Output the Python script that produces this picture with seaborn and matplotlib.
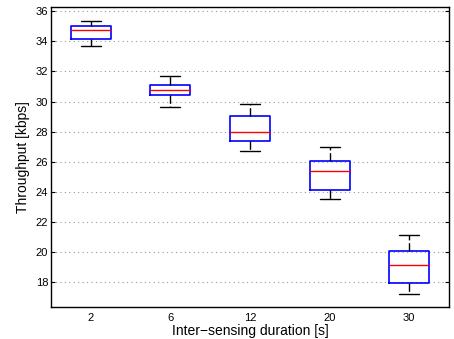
import numpy as np
import matplotlib
matplotlib.use('Agg')
import matplotlib.pyplot as plt
import pandas as pd
import seaborn as sns

# inter-sensing durations [s]
durations = ['2', '6', '12', '20', '30']
# five-number summaries (kbps)
whisker_low = [33.68, 29.66, 26.71, 23.55, 17.24]
q1 = [34.17, 30.42, 27.37, 24.12, 17.94]
median = [34.72, 30.79, 27.99, 25.42, 19.16]
q3 = [34.99, 31.08, 29.03, 26.05, 20.09]
whisker_high = [35.34, 31.72, 29.86, 27.0, 21.15]


if __name__ == '__main__':
    rows = []
    for i, d in enumerate(durations):
        for v in (whisker_low[i], q1[i], median[i], q3[i], whisker_high[i]):
            rows.append({'duration': d, 'throughput': v})
    df = pd.DataFrame(rows)

    sns.set_style('white')
    plt.rcParams['font.family'] = ['Liberation Sans', 'DejaVu Sans']
    plt.rcParams['text.color'] = 'black'
    plt.rcParams['axes.labelcolor'] = 'black'

    fig = plt.figure(figsize=(4.54, 3.39), dpi=100)
    ax = fig.add_axes([0.1123, 0.093, 0.8767, 0.8855])

    sns.boxplot(data=df, x='duration', y='throughput', order=durations,
                whis=(0, 100), width=0.5, fill=False, showfliers=False,
                linewidth=1.2, color='blue', ax=ax,
                boxprops=dict(color='blue', linewidth=1.2),
                medianprops=dict(color='red', linewidth=1.0),
                whiskerprops=dict(color='black', linestyle=(0, (6, 2)), linewidth=1.0),
                capprops=dict(color='black', linewidth=1.0))

    ax.set_ylim(16.34, 36.25)
    ax.set_xlim(-0.5, 4.5)
    ax.set_yticks(np.arange(18, 37, 2))
    ax.yaxis.grid(True, linestyle=(0, (1, 3)), color='#999999', linewidth=0.8)
    ax.set_axisbelow(True)
    ax.xaxis.grid(False)

    for s in ax.spines.values():
        s.set_visible(True)
        s.set_color('black')
        s.set_linewidth(1.0)

    ax.tick_params(axis='y', direction='in', length=3, left=True, right=True,
                   labelsize=8, colors='black', pad=2)
    ax.tick_params(axis='x', length=0, labelsize=8, colors='black', pad=4)

    ax.set_xlabel('Inter\u2212sensing duration [s]', fontsize=10, labelpad=1, color='black')
    ax.set_ylabel('Throughput [kbps]', fontsize=10, labelpad=4, color='black')

    plt.savefig('out.png', dpi=100)
    plt.close()
